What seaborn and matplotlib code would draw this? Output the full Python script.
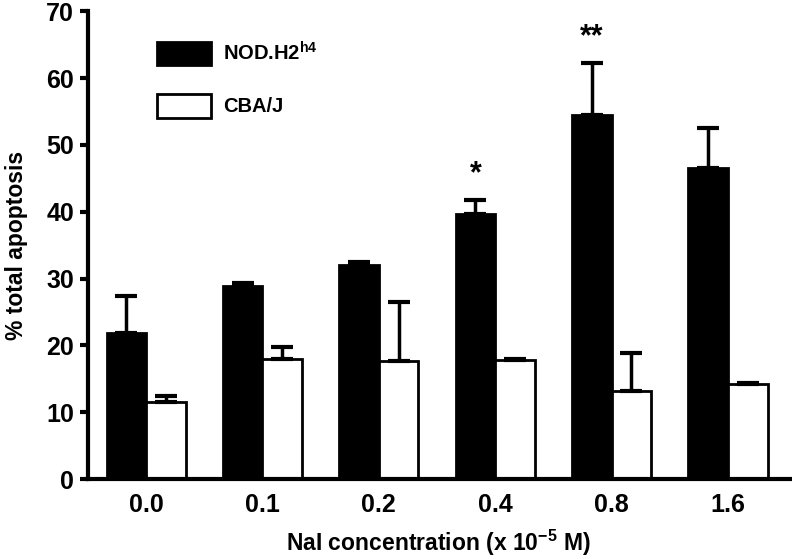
import numpy as np
import pandas as pd
import matplotlib
matplotlib.use("Agg")
import matplotlib.pyplot as plt
import seaborn as sns
from matplotlib.patches import Patch

# values
concentrations = ["0.0", "0.1", "0.2", "0.4", "0.8", "1.6"]
nod_mean = [21.8, 28.9, 32.0, 39.6, 54.5, 46.5]
nod_err = [5.6, 0.5, 0.5, 2.1, 7.7, 6.0]
cba_mean = [11.6, 17.9, 17.7, 17.8, 13.2, 14.2]
cba_err = [0.8, 1.8, 8.8, 0.1, 5.6, 0.2]
strains = ["NOD.H2$^{\\mathrm{h4}}$", "CBA/J"]
stars = {"0.4": "*", "0.8": "**"}

sns.set_style("ticks")
plt.rcParams["font.family"] = ["Liberation Sans", "DejaVu Sans"]
plt.rcParams["font.weight"] = "bold"
plt.rcParams["mathtext.fontset"] = "custom"
plt.rcParams["mathtext.rm"] = "Liberation Sans:bold"
plt.rcParams["mathtext.bf"] = "Liberation Sans:bold"
for k in ["text.color", "axes.labelcolor", "xtick.color", "ytick.color", "axes.edgecolor"]:
    plt.rcParams[k] = "black"

df = pd.DataFrame({
    "conc": concentrations * 2,
    "strain": [strains[0]] * 6 + [strains[1]] * 6,
    "value": nod_mean + cba_mean,
})
errs = [nod_err, cba_err]

fig = plt.figure(figsize=(7.92, 5.59), dpi=100)
ax = fig.add_axes([0.111, 0.143, 0.886, 0.837])

sns.barplot(data=df, x="conc", y="value", hue="strain", order=concentrations,
            hue_order=strains, palette=["black", "white"], edgecolor="black",
            linewidth=2, width=0.68, errorbar=None, legend=False, ax=ax)

bar_conts = list(ax.containers)

# upper-only error bars
for i, cont in enumerate(bar_conts):
    xs = [b.get_x() + b.get_width() / 2 for b in cont]
    hs = [b.get_height() for b in cont]
    ax.errorbar(xs, hs, yerr=[np.zeros(len(hs)), errs[i]], fmt="none",
                ecolor="black", elinewidth=2.5, capsize=8, capthick=3, zorder=1)

# significance stars above NOD bars
nod_bars = bar_conts[0]
for j, c in enumerate(concentrations):
    if c in stars:
        b = nod_bars[j]
        ax.text(b.get_x() + b.get_width() / 2, nod_mean[j] + nod_err[j] + 1.6, stars[c],
                ha="center", va="bottom", fontsize=22, fontweight="bold")

ax.set_ylim(0, 70)
ax.set_xlim(-0.5, 5.53)
ax.set_yticks(range(0, 71, 10))
ax.tick_params(axis="y", direction="out", length=6, width=3, labelsize=18, pad=4)
ax.tick_params(axis="x", length=0, labelsize=18, pad=10)
for t in ax.get_xticklabels() + ax.get_yticklabels():
    t.set_fontweight("bold")
sns.despine(ax=ax)
ax.spines["left"].set_linewidth(3)
ax.spines["bottom"].set_linewidth(3)

ax.set_ylabel("% total apoptosis", fontsize=16.5, fontweight="bold", labelpad=13)
ax.set_xlabel("NaI concentration (x 10$^{\\mathrm{-5}}$ M)", fontsize=16.5,
              fontweight="bold", labelpad=8)

handles = [Patch(facecolor="black", edgecolor="black", linewidth=2, label=strains[0]),
           Patch(facecolor="white", edgecolor="black", linewidth=2, label=strains[1])]
ax.legend(handles=handles, loc="upper left", bbox_to_anchor=(0.072, 0.975),
          frameon=False, handlelength=2.7, handleheight=1.45,
          labelspacing=1.4, handletextpad=0.6, prop={"weight": "bold", "size": 14.5})

fig.savefig("out.png", dpi=100)
